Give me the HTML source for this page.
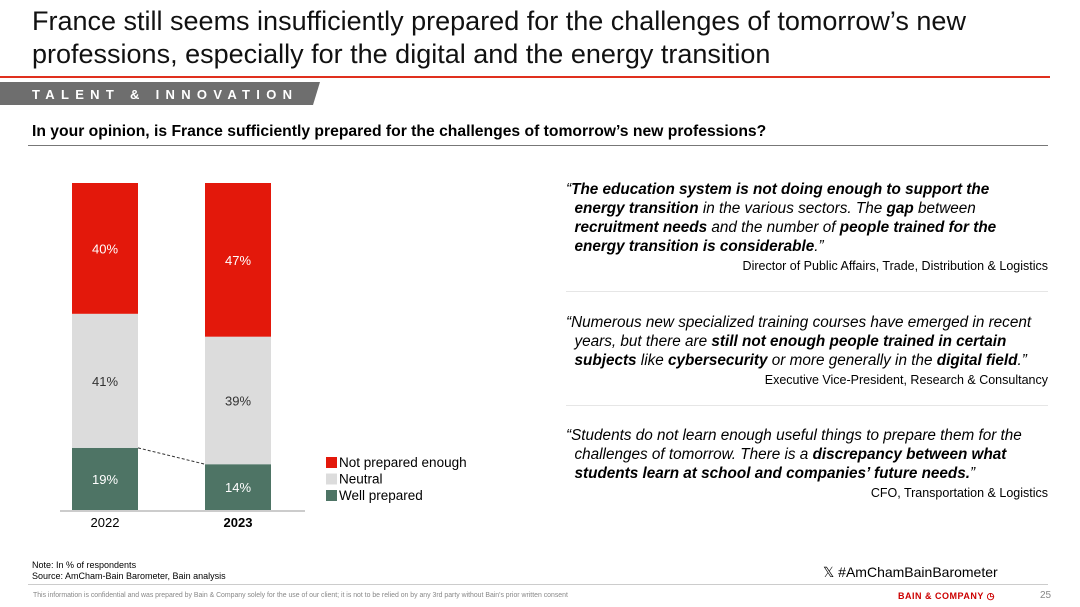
<!DOCTYPE html>
<html><head><meta charset="utf-8">
<style>
body{margin:0;width:1080px;height:607px;background:#fff;font-family:"Liberation Sans",Arial,sans-serif;position:relative;overflow:hidden;color:#000}
.abs{position:absolute}
.q{font-size:15.3px;line-height:19px;font-style:italic;color:#000}
.q .a{display:block;text-align:right;font-style:normal;font-size:12.5px;margin-top:1px}
.sep{position:absolute;left:566px;width:482px;height:1px;background:#e6e6e6}
</style></head><body>
<div class="abs" style="left:32px;top:5px;width:1000px;font-size:27px;line-height:33px;color:#111">France still seems insufficiently prepared for the challenges of tomorrow’s new<br>professions, especially for the digital and the energy transition</div>
<div class="abs" style="left:0;top:76px;width:1050px;height:2px;background:#e0301e"></div>
<svg class="abs" style="left:0;top:82px" width="330" height="24"><polygon points="0,0 320,0 313,23 0,23" fill="#6e6e6e"/><text x="32" y="17" fill="#fff" font-size="13" font-weight="bold" letter-spacing="6.3" font-family="Liberation Sans">TALENT &amp; INNOVATION</text></svg>
<div class="abs" style="left:32px;top:123px;font-size:15.7px;font-weight:bold">In your opinion, is France sufficiently prepared for the challenges of tomorrow’s new professions?</div>
<div class="abs" style="left:28px;top:145px;width:1020px;height:1px;background:#777"></div>

<svg class="abs" id="chart" style="left:0;top:150px" width="500" height="390"></svg>

<div class="abs q" style="left:566px;top:180px;width:482px">“<b>The education system is not doing enough to support the</b><br>&nbsp;&nbsp;<b>energy transition</b> in the various sectors. The <b>gap</b> between<br>&nbsp;&nbsp;<b>recruitment needs</b> and the number of <b>people trained for the</b><br>&nbsp;&nbsp;<b>energy transition is considerable</b>.”<span class="a">Director of Public Affairs, Trade, Distribution &amp; Logistics</span></div>
<div class="sep" style="top:291px"></div>
<div class="abs q" style="left:566px;top:313px;width:482px">“Numerous new specialized training courses have emerged in recent<br>&nbsp;&nbsp;years, but there are <b>still not enough people trained in certain</b><br>&nbsp;&nbsp;<b>subjects</b> like <b>cybersecurity</b> or more generally in the <b>digital field</b>.”<span class="a">Executive Vice-President, Research &amp; Consultancy</span></div>
<div class="sep" style="top:405px"></div>
<div class="abs q" style="left:566px;top:426px;width:482px">“Students do not learn enough useful things to prepare them for the<br>&nbsp;&nbsp;challenges of tomorrow. There is a <b>discrepancy between what</b><br>&nbsp;&nbsp;<b>students learn at school and companies’ future needs.</b>”<span class="a">CFO, Transportation &amp; Logistics</span></div>

<div class="abs" style="left:32px;top:560px;font-size:9px;line-height:11px">Note: In % of respondents<br>Source: AmCham-Bain Barometer, Bain analysis</div>
<div class="abs" style="left:823px;top:564px;font-size:14px">𝕏 #AmChamBainBarometer</div>
<div class="abs" style="left:28px;top:584px;width:1020px;height:1px;background:#ccc"></div>
<div class="abs" style="left:33px;top:592px;font-size:6.9px;color:#888">This information is confidential and was prepared by Bain &amp; Company solely for the use of our client; it is not to be relied on by any 3rd party without Bain's prior written consent</div>
<div class="abs" style="left:898px;top:591px;font-size:9px;font-weight:bold;color:#cc0000;letter-spacing:0.5px">BAIN &amp; COMPANY ◷</div>
<div class="abs" style="left:1040px;top:590px;font-size:10px;color:#888">25</div>

<script>
const years=["2022","2023"];
const wellPrepared=[19,14];
const neutral=[41,39];
const notPrepared=[40,47];
const seriesNames=["Not prepared enough","Neutral","Well prepared"];
const colors={np:"#e3180b",ne:"#dcdcdc",wp:"#4e7465"};
const svg=document.getElementById('chart');
const NS="http://www.w3.org/2000/svg";
const plotTop=33,plotBottom=360,barW=66;
const xPos=i=>72+i*133;
const y=v=>plotBottom-(v/100)*(plotBottom-plotTop);
function el(t,a){const e=document.createElementNS(NS,t);for(const k in a)e.setAttribute(k,a[k]);svg.appendChild(e);return e;}
years.forEach((yr,i)=>{
  const segs=[[wellPrepared[i],colors.wp,"#fff","well-prepared"],[neutral[i],colors.ne,"#333","neutral"],[notPrepared[i],colors.np,"#fff","not-prepared"]];
  let base=0;
  segs.forEach(s=>{
    const y0=y(base),y1=y(base+s[0]);
    const r=el('rect',{x:xPos(i),y:y1,width:barW,height:y0-y1,fill:s[1]});
    
    
    const t=el('text',{x:xPos(i)+barW/2,y:(y0+y1)/2+5,'text-anchor':'middle','font-size':13,fill:s[2],'font-family':'Liberation Sans'});
    t.textContent=s[0]+'%';
    
    
    base+=s[0];
  });
  const l=el('text',{x:xPos(i)+barW/2,y:plotBottom+17,'text-anchor':'middle','font-size':13,'font-weight':i==1?'bold':'normal','font-family':'Liberation Sans'});
  l.textContent=yr;
  
  
});
const d=el('line',{x1:xPos(0)+barW,y1:y(wellPrepared[0]),x2:xPos(1),y2:y(wellPrepared[1]),stroke:'#333','stroke-dasharray':'3,2','stroke-width':1});


const ax=el('line',{x1:60,y1:plotBottom+1,x2:305,y2:plotBottom+1,stroke:'#999','stroke-width':1});


[colors.np,colors.ne,colors.wp].forEach((c,k)=>{
  const r=el('rect',{x:326,y:307+k*16.5,width:11,height:11,fill:c});
  
  
  const t=el('text',{x:339,y:317+k*16.5,'font-size':13.5,'font-family':'Liberation Sans'});
  t.textContent=seriesNames[k];
  
  
});
</script>
</body></html>
